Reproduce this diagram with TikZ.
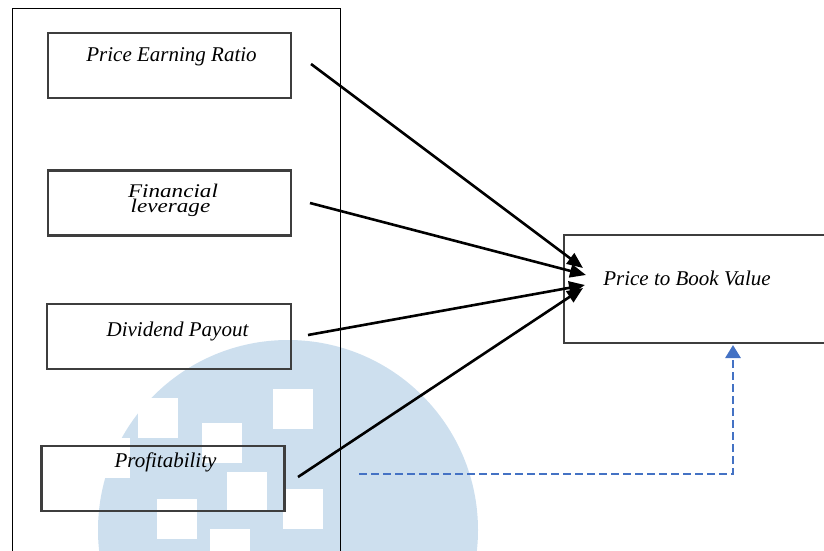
\documentclass[tikz,border=0pt]{standalone}
\usepackage{fontspec}
\setmainfont{Liberation Serif}
\usetikzlibrary{arrows.meta,calc}
\definecolor{wmblue}{RGB}{205,223,238}
\definecolor{dashblue}{RGB}{68,114,196}
\definecolor{boxedge}{RGB}{62,62,62}
\tikzset{
  varbox/.style={draw=boxedge, line width=2.8pt, rectangle, minimum width=243pt, minimum height=65pt, inner sep=0pt},
  lbl/.style={anchor=base, inner sep=0pt, font=\fontsize{21}{22}\selectfont\itshape},
  effect/.style={line width=2.6pt, -{Triangle[length=16pt,width=13pt]}},
  ctrl/.style={dashblue, line width=2.8pt, dash pattern=on 8pt off 4pt, -{Triangle[length=13pt,width=15pt]}},
  wmsq/.style={fill=white}
}
\begin{document}
\begin{tikzpicture}[x=1pt,y=-1pt]
\useasboundingbox (0,0) rectangle (824,551);
% watermark
\fill[wmblue] (288,530) circle[radius=190];
\foreach \sx/\sy in {273/389, 202/423, 138/398, 90/438, 227/472, 283/489, 157/499, 210/529}
  \fill[wmsq] (\sx,\sy) rectangle ++(40,40);
% outer frame
\draw[line width=0.9pt] (12,560) -- (12,8) -- (340,8) -- (340,560);
% boxes
\node[varbox] (per) at (169.5,65.5) {};
\node[varbox] (fl) at (169.5,203) {};
\node[varbox, minimum width=244pt] (dp) at (169,336.5) {};
\node[varbox] (pr) at (163,478.5) {};
\node[varbox, minimum width=266pt, minimum height=108pt] (pbv) at (697,289) {};
% labels
\node[lbl] (tper) at (171.5,62) {Price Earning Ratio};
\node[lbl] (tfin) at (173,197.5) {\scalebox{1.1}[0.92]{Financial}};
\node[lbl] (tlev) at (170.5,212.5) {\scalebox{1.1}[0.92]{leverage}};
\node[lbl] (tdp) at (177.5,336) {Dividend Payout};
\node[lbl] (tpr) at (165.5,467) {Profitability};
\node[lbl] (tpbv) at (687,285) {Price to Book Value};
% connector ends
\coordinate (s1) at (311,64);
\coordinate (s2) at (310,203);
\coordinate (s3) at (308,335);
\coordinate (s4) at (298,477);
\coordinate (e1) at (583,268);
\coordinate (e2) at (586,275);
\coordinate (e3) at (585,285);
\coordinate (e4) at (583,288);
\draw[effect] (s1) -- (e1);
\draw[effect] (s2) -- (e2);
\draw[effect] (s3) -- (e3);
\draw[effect] (s4) -- (e4);
\coordinate (d0) at (359,474);
\coordinate (d1) at (733,345);
\draw[ctrl] (d0) -| (d1);
\end{tikzpicture}
\end{document}
